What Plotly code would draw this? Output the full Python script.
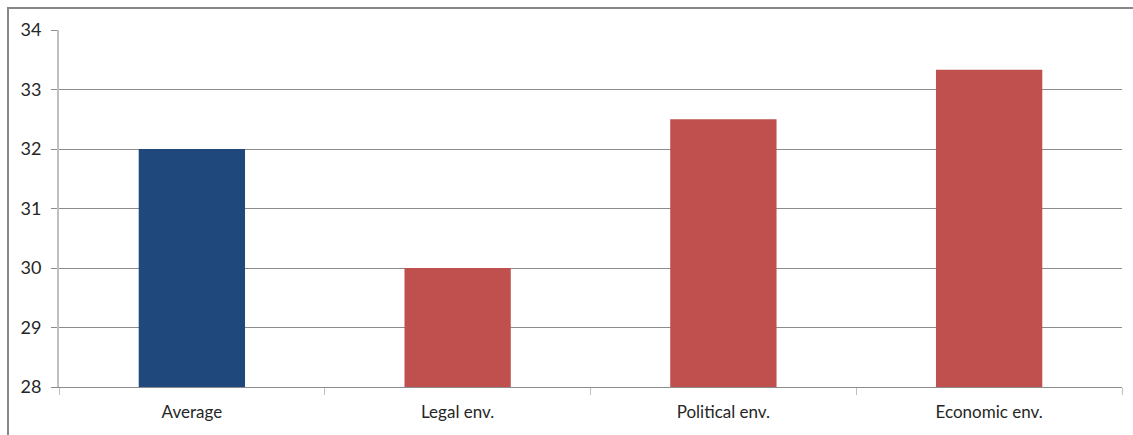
import plotly.graph_objects as go

categories = ["Average", "Legal env.", "Political env.", "Economic env."]
values = [32.0, 30.0, 32.5, 33.33]
bar_colors = ["#1F497D", "#C0504D", "#C0504D", "#C0504D"]
y_ticks = [28, 29, 30, 31, 32, 33, 34]

W, H = 1133, 435
L, R, T, B = 59, 11, 30, 48

fig = go.Figure(
    go.Bar(
        x=categories,
        y=values,
        marker=dict(color=bar_colors, line=dict(width=0)),
        width=0.4,
        hoverinfo="x+y",
    )
)

plot_w = W - L - R
plot_h = H - T - B

fig.update_layout(
    width=W,
    height=H,
    margin=dict(l=L, r=R, t=T, b=B, pad=0),
    paper_bgcolor="white",
    plot_bgcolor="white",
    showlegend=False,
    font=dict(family="Lato, Open Sans, sans-serif", size=17, color="#262626"),
    xaxis=dict(
        showgrid=False,
        showline=True,
        linecolor="#8C8C8C",
        linewidth=1,
        ticks="outside",
        tickson="boundaries",
        ticklen=7,
        tickcolor="#BFBFBF",
        tickwidth=1,
        tickfont=dict(size=17, color="#262626"),
        ticklabelstandoff=10,
        zeroline=False,
    ),
    yaxis=dict(
        range=[28, 34],
        tickvals=y_ticks,
        showgrid=True,
        gridcolor="#8C8C8C",
        gridwidth=1,
        showline=True,
        linecolor="#BFBFBF",
        linewidth=2,
        ticks="outside",
        ticklen=6,
        tickcolor="#8C8C8C",
        tickwidth=1,
        tickfont=dict(size=18, color="#262626"),
        ticklabelstandoff=6,
        zeroline=False,
        fixedrange=True,
    ),
    bargap=0.6,
)

# Outer chart frame, open on the right and bottom edges of the page
fig.add_shape(
    type="rect",
    xref="paper",
    yref="paper",
    x0=(8 - L) / plot_w,
    x1=(W + 20 - L) / plot_w,
    y0=-(B + 20) / plot_h,
    y1=1 + (T - 8) / plot_h,
    line=dict(color="#878787", width=2),
    fillcolor="rgba(0,0,0,0)",
    layer="below",
)

fig.write_html("out.html")
